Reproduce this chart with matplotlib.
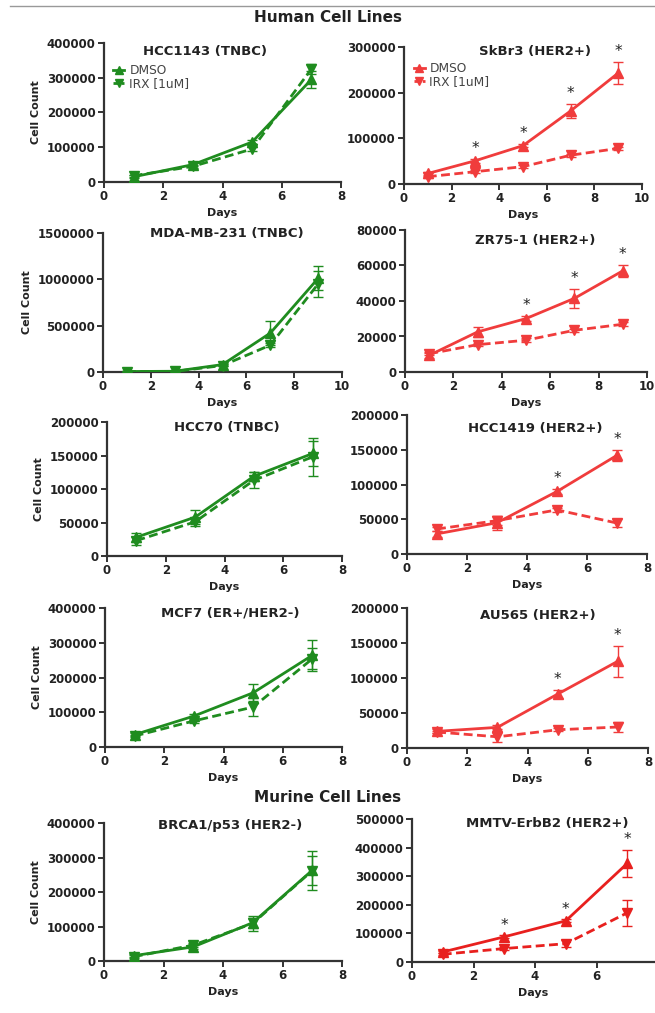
import matplotlib
matplotlib.use("Agg")
import matplotlib.pyplot as plt
from matplotlib.lines import Line2D

plt.rcParams['font.family'] = ['DejaVu Sans']

GREEN = '#1f8c1f'
RED = '#f03c3c'
RED2 = '#e8201e'

# ---------------- data ----------------
days4 = [1, 3, 5, 7]
days5 = [1, 3, 5, 7, 9]

hcc1143_dmso = [15000, 50000, 115000, 295000]
hcc1143_dmso_err = [4000, 4000, 6000, 25000]
hcc1143_irx = [18000, 45000, 95000, 325000]
hcc1143_irx_err = [3000, 4000, 6000, 15000]

skbr3_dmso = [23000, 51000, 84000, 160000, 243000]
skbr3_dmso_err = [3000, 4000, 4000, 15000, 25000]
skbr3_irx = [16000, 27000, 38000, 63000, 78000]
skbr3_irx_err = [2000, 3000, 3000, 3000, 3000]
skbr3_stars = [3, 5, 7, 9]

mda_dmso = [5000, 8000, 80000, 420000, 1010000]
mda_dmso_err = [3000, 3000, 10000, 130000, 130000]
mda_irx = [5000, 6000, 70000, 290000, 950000]
mda_irx_err = [3000, 3000, 10000, 20000, 140000]

zr75_dmso = [9400, 22600, 30100, 41500, 57000]
zr75_dmso_err = [1500, 3000, 1500, 5500, 3500]
zr75_irx = [10300, 15400, 17900, 23500, 26900]
zr75_irx_err = [1000, 1000, 1000, 1000, 1000]
zr75_stars = [5, 7, 9]

hcc70_dmso = [28000, 58000, 119000, 153000]
hcc70_dmso_err = [7000, 10000, 7000, 19000]
hcc70_irx = [23000, 51000, 113000, 148000]
hcc70_irx_err = [6000, 6000, 12000, 28000]

hcc1419_dmso = [29000, 45000, 90000, 142000]
hcc1419_dmso_err = [4000, 10000, 4000, 8000]
hcc1419_irx = [36000, 48000, 63500, 44500]
hcc1419_irx_err = [3000, 6000, 3000, 6000]
hcc1419_stars = [5, 7]

mcf7_dmso = [35500, 89000, 156000, 264000]
mcf7_dmso_err = [4000, 6000, 25000, 44000]
mcf7_irx = [31600, 75000, 115000, 254000]
mcf7_irx_err = [4000, 6000, 27000, 30000]

au565_dmso = [23800, 29500, 77000, 124000]
au565_dmso_err = [3000, 3000, 6000, 22000]
au565_irx = [22800, 16000, 26000, 30000]
au565_irx_err = [2000, 8000, 2000, 7000]
au565_stars = [5, 7]

brca1_dmso = [15400, 41000, 111000, 263000]
brca1_dmso_err = [4000, 7000, 14000, 42000]
brca1_irx = [12500, 46000, 109000, 262000]
brca1_irx_err = [4000, 6000, 22000, 57000]

mmtv_dmso = [35000, 88000, 144000, 345000]
mmtv_dmso_err = [4000, 5000, 5000, 47000]
mmtv_irx = [27000, 47000, 64000, 172000]
mmtv_irx_err = [4000, 6000, 13000, 45000]
mmtv_stars = [3, 5, 7]

W, H = 655, 1013
fig = plt.figure(figsize=(W / 100, H / 100), dpi=100)
TXT = '#222222'


def add_ax(x0, x1, ytop, ybot):
    return fig.add_axes([x0 / W, 1 - ybot / H, (x1 - x0) / W, (ybot - ytop) / H])


def panel(box, title, tpos, days, dmso, dmso_err, irx, irx_err, color, xmax, xticks,
          ymax, ystep, stars=(), legend=None, ylabel=True):
    ax = add_ax(*box)
    ax.errorbar(days, irx, yerr=irx_err, color=color, lw=2.0, ls=(0, (3.2, 1.6)),
                marker='v', ms=6.5, capsize=3.5, elinewidth=1.0, capthick=1.0,
                zorder=3)
    ax.errorbar(days, dmso, yerr=dmso_err, color=color, lw=2.0, ls='-',
                marker='^', ms=6.5, capsize=3.5, elinewidth=1.0, capthick=1.0,
                zorder=4)
    for s in stars:
        i = days.index(s)
        top = dmso[i] + dmso_err[i]
        ax.text(s, top + ymax * 0.02, '*', ha='center', va='bottom',
                fontsize=11, color=TXT)
    ax.set_xlim(0, xmax)
    ax.set_ylim(0, ymax)
    ax.set_xticks(xticks)
    yt = list(range(0, int(ymax) + 1, int(ystep)))
    ax.set_yticks(yt)
    ax.set_yticklabels([str(v) for v in yt])
    for sp in ['top', 'right']:
        ax.spines[sp].set_visible(False)
    for sp in ['left', 'bottom']:
        ax.spines[sp].set_linewidth(1.6)
        ax.spines[sp].set_color('#333333')
    ax.tick_params(direction='out', length=4, width=1.4, color='#333333',
                   labelsize=8.5, pad=2)
    for lab in ax.get_xticklabels() + ax.get_yticklabels():
        lab.set_fontweight('bold')
        lab.set_color(TXT)
    ax.set_xlabel('Days', fontsize=8, fontweight='bold', labelpad=3, color=TXT)
    if ylabel:
        ax.set_ylabel('Cell Count', fontsize=8, fontweight='bold', color=TXT)
    fig.text(tpos[0] / W, 1 - tpos[1] / H, title, ha='center', va='center',
             fontsize=9.5, fontweight='bold', color=TXT)
    if legend is not None:
        h = [Line2D([], [], color=color, lw=2, marker='^', ms=5.5),
             Line2D([], [], color=color, lw=2, ls=(0, (2, 1)), marker='v', ms=5.5)]
        leg = ax.legend(h, ['DMSO', 'IRX [1uM]'], loc='upper left',
                        bbox_to_anchor=legend,
                        frameon=False, fontsize=8.8, handlelength=0.9,
                        handletextpad=0.4, borderaxespad=0.0, labelspacing=0.0,
                        borderpad=0.0)
        for t in leg.get_texts():
            t.set_color('#444444')
    return ax


panel((104, 341, 43, 182), 'HCC1143 (TNBC)', (205, 52), days4, hcc1143_dmso, hcc1143_dmso_err,
      hcc1143_irx, hcc1143_irx_err, GREEN, 8, [0, 2, 4, 6, 8], 400000, 100000,
      legend=(0.04, 0.85))
panel((404, 642, 47, 184), 'SkBr3 (HER2+)', (535, 52), days5, skbr3_dmso, skbr3_dmso_err,
      skbr3_irx, skbr3_irx_err, RED, 10, [0, 2, 4, 6, 8, 10], 300000, 100000,
      stars=skbr3_stars, legend=(0.04, 0.89), ylabel=False)
panel((103, 342, 233, 372), 'MDA-MB-231 (TNBC)', (227, 233), days5, mda_dmso, mda_dmso_err,
      mda_irx, mda_irx_err, GREEN, 10, [0, 2, 4, 6, 8, 10], 1500000, 500000)
panel((405, 647, 230, 372), 'ZR75-1 (HER2+)', (535, 240), days5, zr75_dmso, zr75_dmso_err,
      zr75_irx, zr75_irx_err, RED, 10, [0, 2, 4, 6, 8, 10], 80000, 20000,
      stars=zr75_stars, ylabel=False)
panel((107, 342, 422, 556), 'HCC70 (TNBC)', (227, 427), days4, hcc70_dmso, hcc70_dmso_err,
      hcc70_irx, hcc70_irx_err, GREEN, 8, [0, 2, 4, 6, 8], 200000, 50000)
panel((407, 647, 415, 554), 'HCC1419 (HER2+)', (535, 428), days4, hcc1419_dmso, hcc1419_dmso_err,
      hcc1419_irx, hcc1419_irx_err, RED, 8, [0, 2, 4, 6, 8], 200000, 50000,
      stars=hcc1419_stars, ylabel=False)
panel((105, 342, 608, 747), 'MCF7 (ER+/HER2-)', (230, 613), days4, mcf7_dmso, mcf7_dmso_err,
      mcf7_irx, mcf7_irx_err, GREEN, 8, [0, 2, 4, 6, 8], 400000, 100000)
panel((407, 648, 608, 748), 'AU565 (HER2+)', (538, 615), days4, au565_dmso, au565_dmso_err,
      au565_irx, au565_irx_err, RED, 8, [0, 2, 4, 6, 8], 200000, 50000,
      stars=au565_stars, ylabel=False)
panel((104, 342, 823, 961), 'BRCA1/p53 (HER2-)', (230, 825), days4, brca1_dmso, brca1_dmso_err,
      brca1_irx, brca1_irx_err, GREEN, 8, [0, 2, 4, 6, 8], 400000, 100000)
panel((412, 655, 819, 962), 'MMTV-ErbB2 (HER2+)', (547, 823), days4, mmtv_dmso, mmtv_dmso_err,
      mmtv_irx, mmtv_irx_err, RED2, 7.9, [0, 2, 4, 6], 500000, 100000,
      stars=mmtv_stars, ylabel=False)

fig.text(328 / W, 1 - 18 / H, 'Human Cell Lines', ha='center', va='center',
         fontsize=11, fontweight='bold', color=TXT)
fig.text(328 / W, 1 - 797 / H, 'Murine Cell Lines', ha='center', va='center',
         fontsize=11, fontweight='bold', color=TXT)
fig.add_artist(Line2D([10 / W, 1], [1 - 6 / H, 1 - 6 / H], color='#999999', lw=1.0))

fig.savefig('out.png', dpi=100, facecolor='white')
